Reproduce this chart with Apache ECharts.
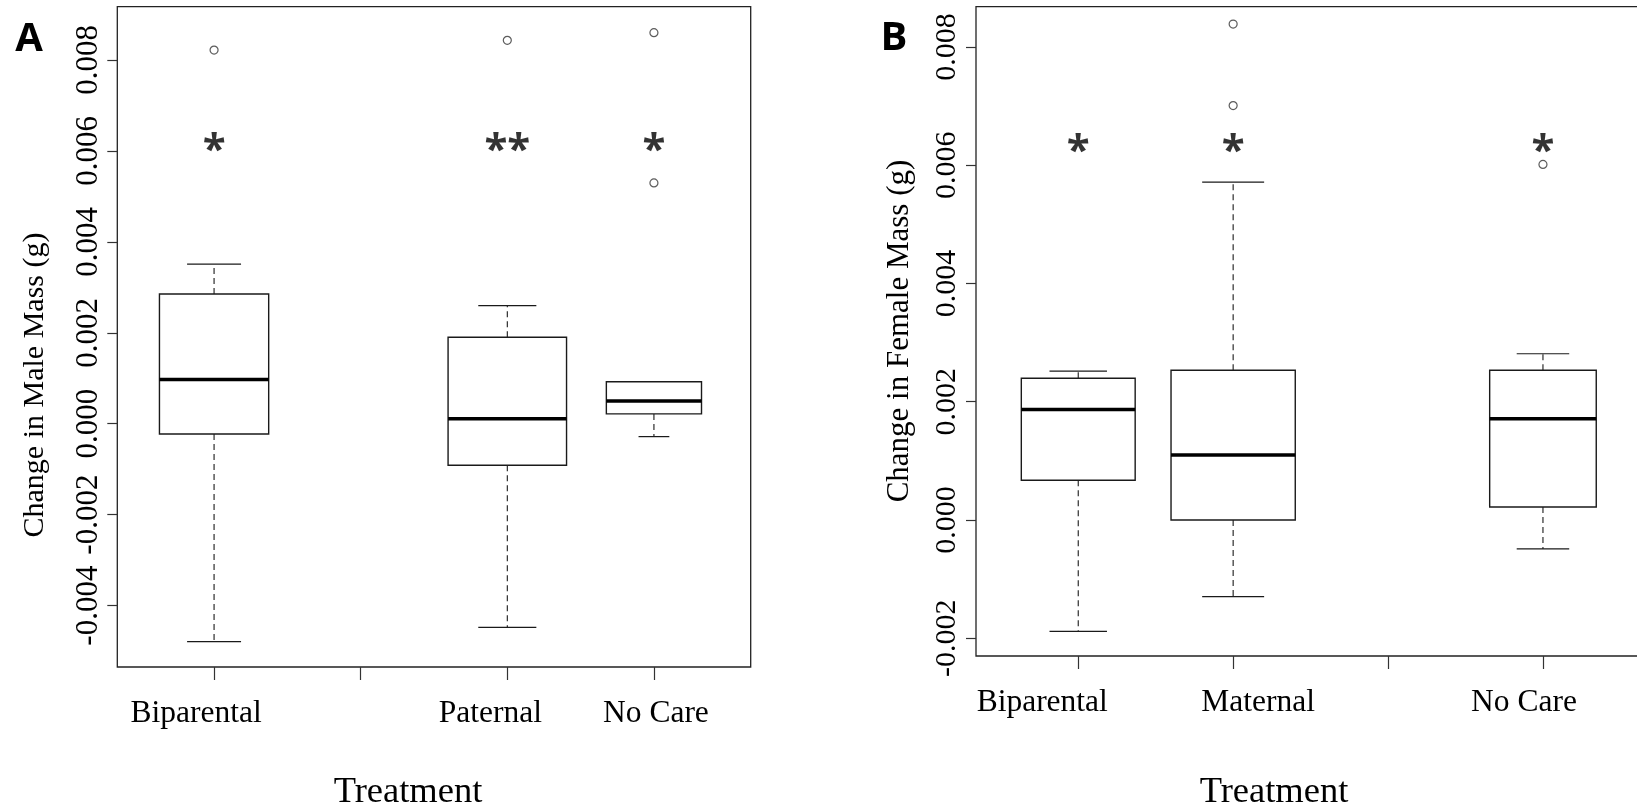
<!DOCTYPE html>
<html>
<head>
<meta charset="utf-8">
<script src="https://cdn.jsdelivr.net/npm/echarts@6/dist/echarts.min.js"></script>
<style>
html,body{margin:0;padding:0;background:#fff;}
#chart{width:1637px;height:812px;}
</style>
</head>
<body>
<div id="chart"></div>
<script>
// ---------- DATA ----------
// Panel A: Change in Male Mass (g)
const xTickLabelsA = ['Biparental', '', 'Paternal', 'No Care'];
const yTicksA = [-0.004, -0.002, 0.000, 0.002, 0.004, 0.006, 0.008];
const groupPosA = [1, 3, 4];
const lowA  = [-0.004794, -0.00448, -0.000284];
const q1A   = [-0.000225, -0.000912, 0.000216];
const medA  = [0.000971, 0.000108, 0.000500];
const q3A   = [0.002853, 0.001902, 0.000922];
const highA = [0.003510, 0.002598, 0.000922];
const outlierPosA = [1, 3, 4, 4];
const outlierValA = [0.008216, 0.008431, 0.008598, 0.005294];
const starPosA = [1, 3, 4];
const starValA = [0.00619, 0.00619, 0.00619];
const starTextA = ['*', '**', '*'];

// Panel B: Change in Female Mass (g)
const xTickLabelsB = ['Biparental', 'Maternal', '', 'No Care'];
const yTicksB = [-0.002, 0.000, 0.002, 0.004, 0.006, 0.008];
const groupPosB = [1, 2, 4];
const lowB  = [-0.001884, -0.001296, -0.000490];
const q1B   = [0.000671, 0.000000, 0.000219];
const medB  = [0.001869, 0.001100, 0.001711];
const q3B   = [0.002396, 0.002532, 0.002532];
const highB = [0.002517, 0.005712, 0.002811];
const outlierPosB = [2, 2, 4];
const outlierValB = [0.008387, 0.007008, 0.006013];
const starPosB = [1, 2, 4];
const starValB = [0.00637, 0.00637, 0.00637];
const starTextB = ['*', '*', '*'];

// ---------- STYLE / LAYOUT ----------
const boxWidthA = [0.745, 0.808, 0.649];
const capWidthA = [0.368, 0.396, 0.21];
const boxWidthB = [0.735, 0.802, 0.688];
const capWidthB = [0.371, 0.40, 0.339];
const labelShiftA = [-18, 0, -17, 2];
const labelShiftB = [-36, 25, 0, -19];

const SERIF = '"Liberation Serif", "Times New Roman", serif';
const SANS = '"Open Sans", "Liberation Sans", sans-serif';
const INK = '#1a1a1a';

function boxData(pos, low, q1, med, q3, high) {
  return pos.map((p, i) => [p, low[i], q1[i], med[i], q3[i], high[i]]);
}
function pairs(pos, vals) { return pos.map((p, i) => [p, vals[i]]); }
function triples(pos, vals, txt) { return pos.map((p, i) => [p, vals[i], txt[i]]); }

function makeBoxRender(boxW, capW) {
  return function (params, api) {
    const x = api.value(0);
    const pLow = api.coord([x, api.value(1)]);
    const pQ1 = api.coord([x, api.value(2)]);
    const pMed = api.coord([x, api.value(3)]);
    const pQ3 = api.coord([x, api.value(4)]);
    const pHigh = api.coord([x, api.value(5)]);
    const bw = api.size([boxW[params.dataIndex], 0])[0];
    const cw = api.size([capW[params.dataIndex], 0])[0];
    const cx = pMed[0];
    const dashed = { stroke: INK, lineWidth: 1.1, lineDash: [6, 4] };
    const solid = { stroke: INK, lineWidth: 1.2 };
    return {
      type: 'group',
      children: [
        { type: 'line', shape: { x1: cx, y1: pQ1[1], x2: cx, y2: pLow[1] }, style: dashed },
        { type: 'line', shape: { x1: cx, y1: pQ3[1], x2: cx, y2: pHigh[1] }, style: dashed },
        { type: 'line', shape: { x1: cx - cw / 2, y1: pLow[1], x2: cx + cw / 2, y2: pLow[1] }, style: solid },
        { type: 'line', shape: { x1: cx - cw / 2, y1: pHigh[1], x2: cx + cw / 2, y2: pHigh[1] }, style: solid },
        { type: 'rect', shape: { x: cx - bw / 2, y: pQ3[1], width: bw, height: pQ1[1] - pQ3[1] },
          style: { fill: '#fff', stroke: INK, lineWidth: 1.4 } },
        { type: 'line', shape: { x1: cx - bw / 2, y1: pMed[1], x2: cx + bw / 2, y2: pMed[1] },
          style: { stroke: '#000', lineWidth: 3.6 } }
      ]
    };
  };
}

function richFor(shifts) {
  const r = {};
  shifts.forEach((s, i) => {
    r['s' + i] = {
      fontFamily: SERIF, fontSize: 31.5, color: '#000',
      padding: [0, Math.max(0, -2 * s), 0, Math.max(0, 2 * s)]
    };
  });
  return r;
}

function xAxisFor(gridIndex, labels, shifts) {
  const shown = [];
  labels.forEach((l, i) => { if (l) shown.push(i + 1); });
  return {
    gridIndex: gridIndex, type: 'value', min: 0.34, max: 4.66, position: 'bottom',
    axisLine: { show: false, onZero: false }, splitLine: { show: false },
    axisTick: { show: true, customValues: [1, 2, 3, 4], length: 13, lineStyle: { color: '#333', width: 1.2 } },
    axisLabel: {
      customValues: shown, margin: 31,
      fontFamily: SERIF, fontSize: 31.5, color: '#000',
      formatter: function (v) {
        const i = Math.round(v) - 1;
        return '{s' + i + '|' + labels[i] + '}';
      },
      rich: richFor(shifts)
    }
  };
}

function yAxisFor(gridIndex, ticks, min, max, fs, margin) {
  return {
    gridIndex: gridIndex, type: 'value', min: min, max: max, position: 'left',
    axisLine: { show: false, onZero: false }, splitLine: { show: false },
    axisTick: { show: true, customValues: ticks, length: 10, lineStyle: { color: '#333', width: 1.2 } },
    axisLabel: {
      customValues: ticks, rotate: 90, margin: margin,
      fontFamily: SERIF, fontSize: fs, color: '#000',
      formatter: v => v.toFixed(3)
    }
  };
}

const chart = echarts.init(document.getElementById('chart'), null, { renderer: 'canvas' });

const starLabel = {
  show: true, position: 'inside', offset: [0, 9], formatter: p => p.data[2],
  fontFamily: SANS, fontWeight: 'bold', fontSize: 42, color: '#000'
};

const option = {
  animation: false,
  backgroundColor: '#fff',
  grid: [
    { left: 117.3, top: 6.7, width: 633.4, height: 660.3, show: true, borderColor: '#222', borderWidth: 1.3,
      backgroundColor: 'transparent', containLabel: false, outerBoundsMode: 'none' },
    { left: 976, top: 6.7, width: 669.2, height: 649.3, show: true, borderColor: '#222', borderWidth: 1.3,
      backgroundColor: 'transparent', containLabel: false, outerBoundsMode: 'none' }
  ],
  xAxis: [
    xAxisFor(0, xTickLabelsA, labelShiftA),
    xAxisFor(1, xTickLabelsB, labelShiftB)
  ],
  yAxis: [
    yAxisFor(0, yTicksA, -0.00535, 0.00917, 31, 13),
    yAxisFor(1, yTicksB, -0.0023, 0.00868, 30, 14)
  ],
  series: [
    { type: 'custom', xAxisIndex: 0, yAxisIndex: 0, renderItem: makeBoxRender(boxWidthA, capWidthA),
      encode: { x: 0, y: [1, 2, 3, 4, 5] }, data: boxData(groupPosA, lowA, q1A, medA, q3A, highA), silent: true },
    { type: 'custom', xAxisIndex: 1, yAxisIndex: 1, renderItem: makeBoxRender(boxWidthB, capWidthB),
      encode: { x: 0, y: [1, 2, 3, 4, 5] }, data: boxData(groupPosB, lowB, q1B, medB, q3B, highB), silent: true },
    { type: 'scatter', xAxisIndex: 0, yAxisIndex: 0, symbol: 'circle', symbolSize: 8,
      itemStyle: { color: '#fff', borderColor: '#333', borderWidth: 1.2 }, data: pairs(outlierPosA, outlierValA), z: 5 },
    { type: 'scatter', xAxisIndex: 1, yAxisIndex: 1, symbol: 'circle', symbolSize: 8,
      itemStyle: { color: '#fff', borderColor: '#333', borderWidth: 1.2 }, data: pairs(outlierPosB, outlierValB), z: 5 },
    { type: 'scatter', xAxisIndex: 0, yAxisIndex: 0, symbolSize: 0, label: starLabel,
      data: triples(starPosA, starValA, starTextA), z: 6 },
    { type: 'scatter', xAxisIndex: 1, yAxisIndex: 1, symbolSize: 0, label: starLabel,
      data: triples(starPosB, starValB, starTextB), z: 6 }
  ],
  graphic: [
    { type: 'text', x: 29, y: 40, style: { text: 'A', fontFamily: SANS, fontWeight: 'bold', fontSize: 40, fill: '#000', align: 'center', verticalAlign: 'middle' } },
    { type: 'text', x: 894, y: 39, style: { text: 'B', fontFamily: SANS, fontWeight: 'bold', fontSize: 40, fill: '#000', align: 'center', verticalAlign: 'middle' } },
    { type: 'text', x: 35, y: 385, rotation: Math.PI / 2, style: { text: 'Change in Male Mass (g)', fontFamily: SERIF, fontSize: 30, fill: '#000', align: 'center', verticalAlign: 'middle' } },
    { type: 'text', x: 900, y: 331, rotation: Math.PI / 2, style: { text: 'Change in Female Mass (g)', fontFamily: SERIF, fontSize: 31, fill: '#000', align: 'center', verticalAlign: 'middle' } },
    { type: 'text', x: 408, y: 792, style: { text: 'Treatment', fontFamily: SERIF, fontSize: 36.5, fill: '#000', align: 'center', verticalAlign: 'middle' } },
    { type: 'text', x: 1274, y: 792, style: { text: 'Treatment', fontFamily: SERIF, fontSize: 36.5, fill: '#000', align: 'center', verticalAlign: 'middle' } }
  ]
};
chart.setOption(option);
</script>
</body>
</html>
